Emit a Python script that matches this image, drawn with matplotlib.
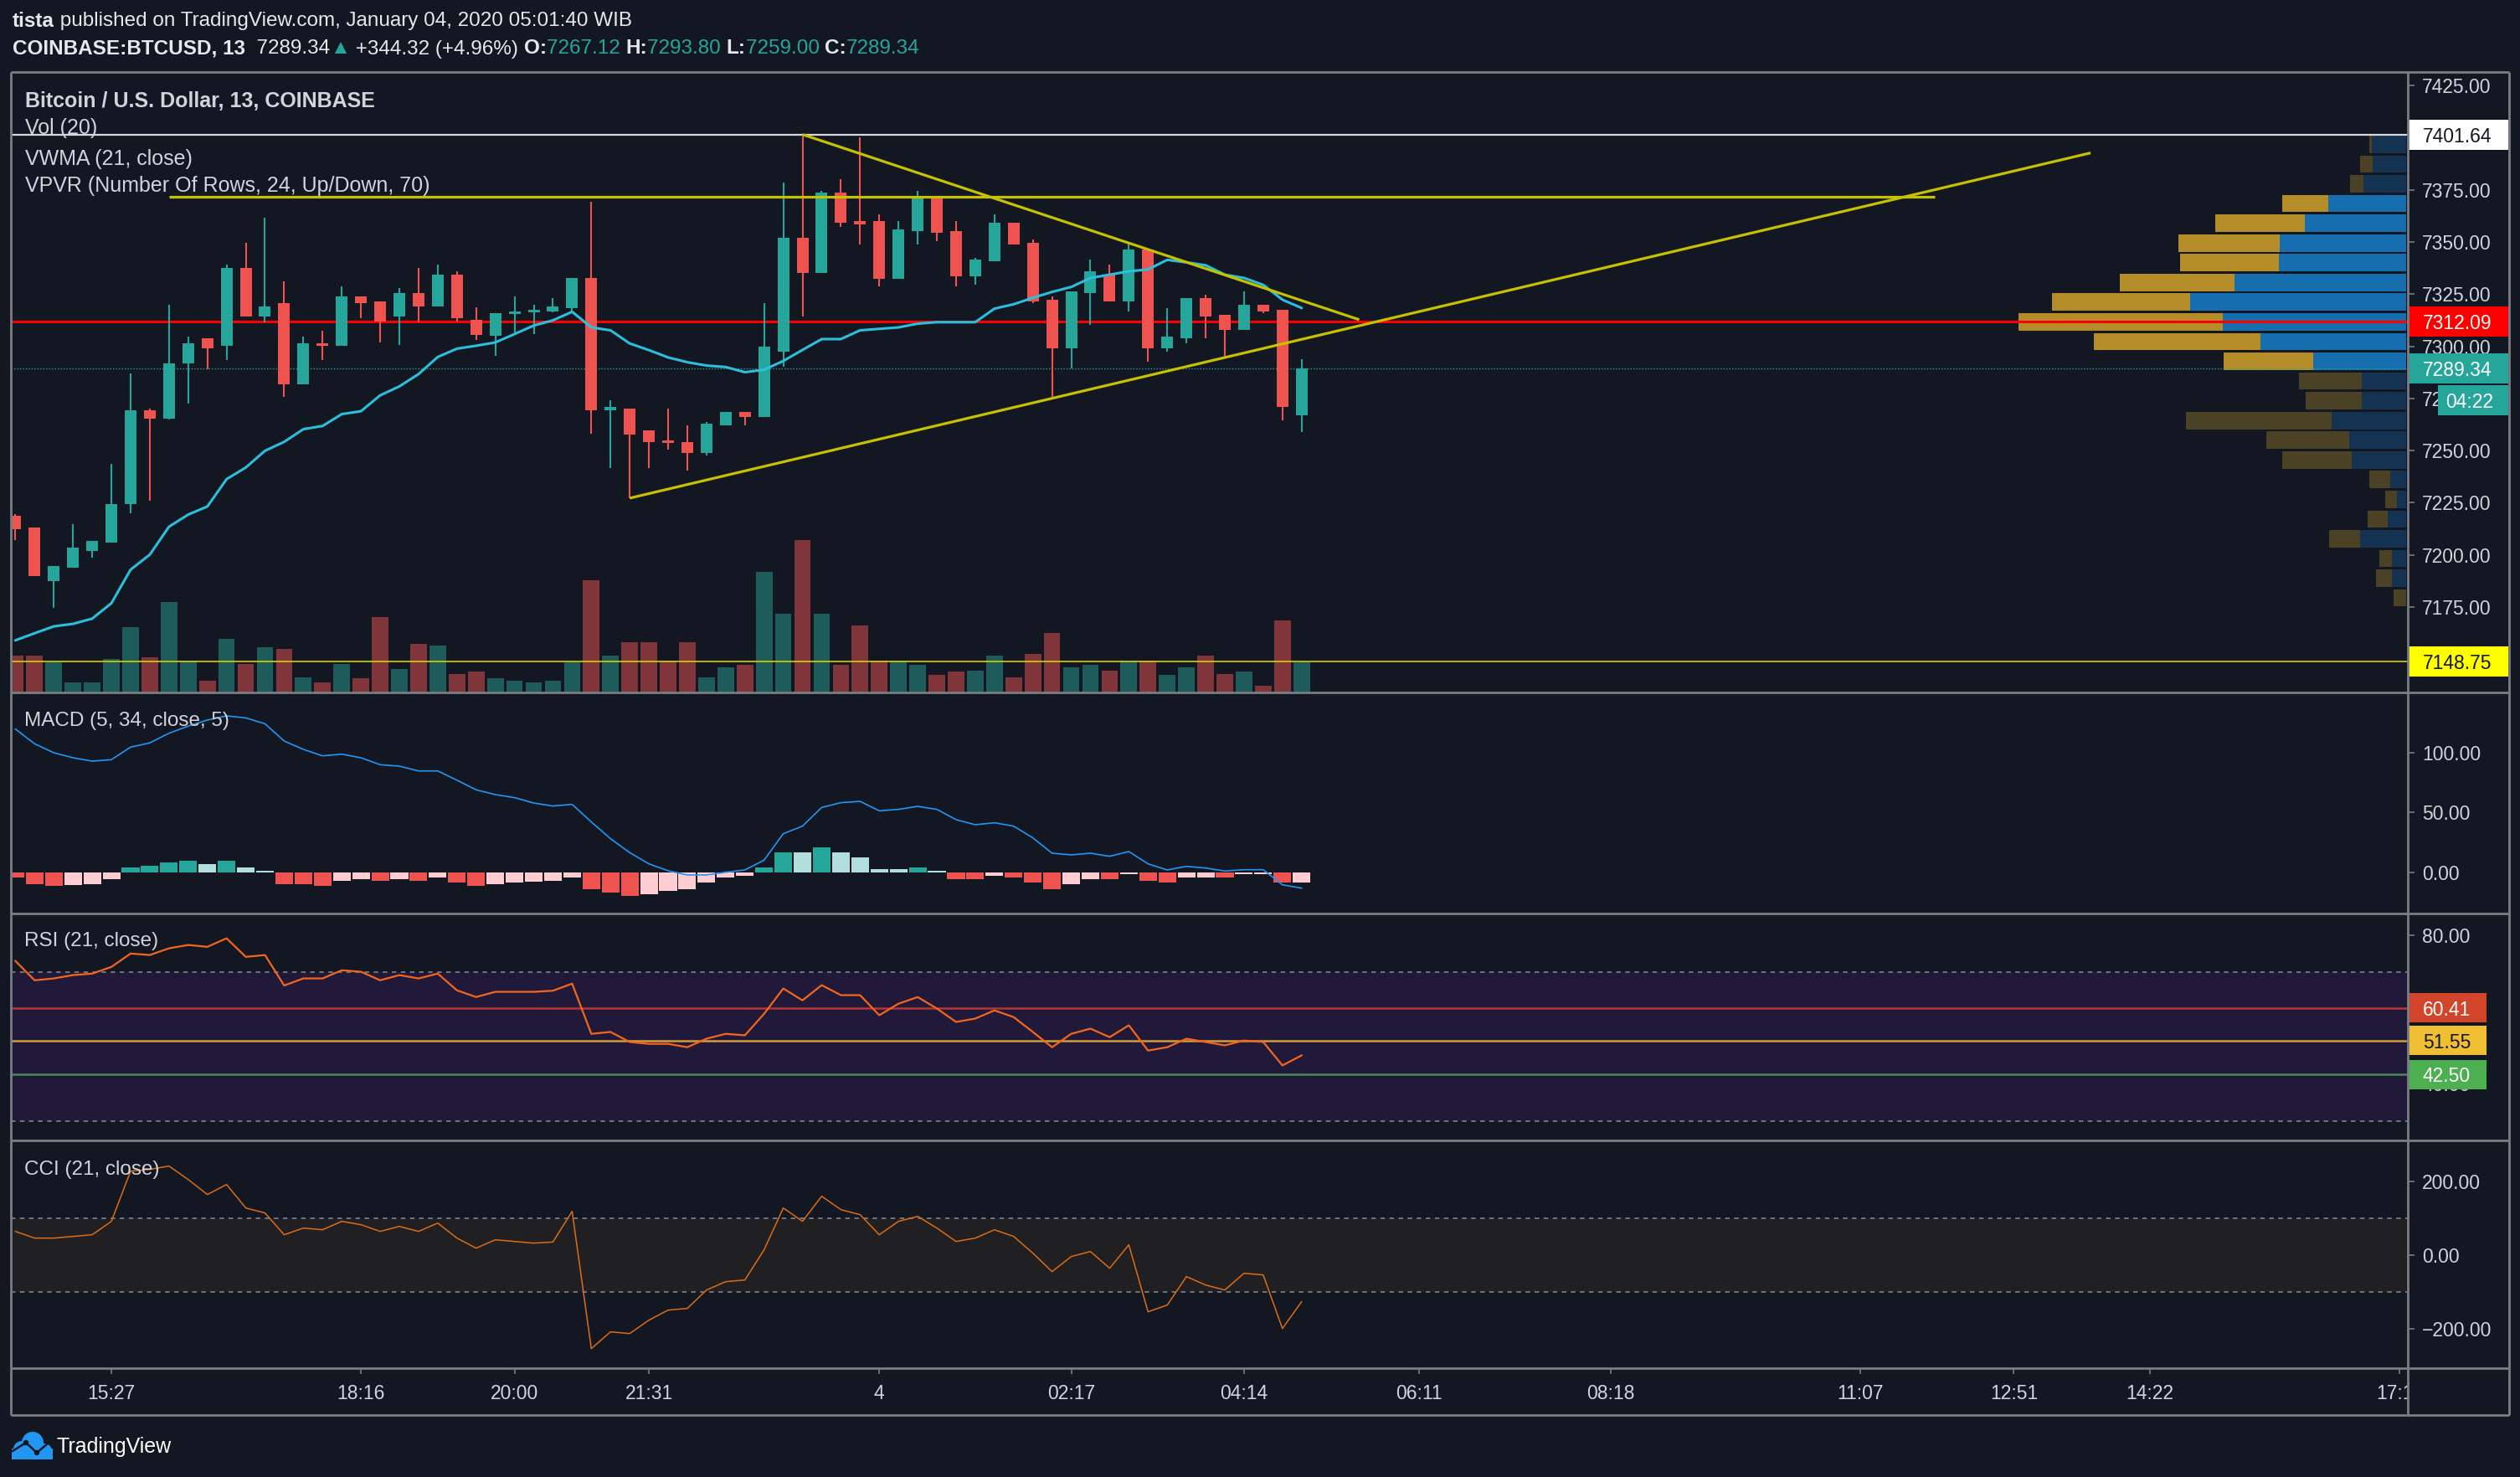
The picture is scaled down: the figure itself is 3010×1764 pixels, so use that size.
import numpy as np
import matplotlib
matplotlib.use("Agg")
import matplotlib.pyplot as plt
import matplotlib.transforms as mtrans
from matplotlib.patches import Rectangle, Circle, Polygon

plt.rcParams['font.family'] = ['Liberation Sans', 'DejaVu Sans']

# ---------------- data ----------------
opens = [7218.6, 7213.2, 7187.5, 7193.8, 7201.9, 7206.0, 7224.5, 7269.3, 7265.5, 7291.9,
         7303.7, 7300.1, 7337.8, 7314.5, 7320.7, 7281.7, 7301.5, 7300.1, 7324.0, 7321.6,
         7314.5, 7325.6, 7319.3, 7334.4, 7312.7, 7305.0, 7315.7, 7316.3, 7316.8, 7318.4,
         7332.8, 7269.3, 7270.2, 7259.8, 7254.9, 7254.1, 7248.7, 7262.1, 7268.6, 7266.2,
         7297.6, 7352.1, 7335.4, 7373.8, 7360.2, 7360.2, 7332.2, 7355.3, 7371.1, 7355.3,
         7333.6, 7340.8, 7359.3, 7349.6, 7322.4, 7299.0, 7325.6, 7334.4, 7321.6, 7346.4,
         7299.0, 7303.9, 7323.3, 7315.2, 7308.0, 7320.0, 7317.5, 7267.12]
highs = [7219.5, 7213.2, 7194.7, 7214.8, 7206.5, 7243.7, 7287.0, 7270.2, 7319.8, 7304.6,
         7304.0, 7339.2, 7349.6, 7361.8, 7331.1, 7304.6, 7307.6, 7328.8, 7324.0, 7321.6,
         7327.9, 7337.8, 7339.2, 7336.0, 7318.9, 7315.9, 7324.0, 7320.0, 7323.3, 7332.8,
         7369.5, 7274.1, 7270.2, 7259.8, 7270.2, 7262.1, 7263.7, 7268.6, 7268.6, 7320.7,
         7378.6, 7401.64, 7374.5, 7380.3, 7400.3, 7363.4, 7360.2, 7374.5, 7371.1, 7360.2,
         7342.4, 7363.4, 7359.3, 7351.2, 7324.0, 7326.3, 7341.7, 7339.2, 7349.6, 7346.4,
         7318.4, 7323.3, 7324.9, 7315.2, 7326.3, 7320.0, 7317.5, 7293.80]
lows = [7206.9, 7189.9, 7174.6, 7193.8, 7198.8, 7206.0, 7219.8, 7226.1, 7265.0, 7272.7,
        7289.0, 7293.5, 7314.5, 7311.4, 7275.9, 7281.7, 7293.5, 7300.1, 7313.6, 7301.7,
        7300.7, 7311.4, 7319.3, 7312.1, 7303.2, 7295.3, 7306.4, 7305.7, 7316.3, 7316.3,
        7258.3, 7241.5, 7227.2, 7241.5, 7250.3, 7240.6, 7247.8, 7262.1, 7262.1, 7266.1,
        7290.3, 7314.5, 7335.4, 7357.1, 7348.9, 7328.8, 7332.2, 7348.9, 7350.5, 7328.8,
        7329.7, 7340.8, 7348.9, 7320.7, 7275.6, 7289.4, 7310.5, 7321.6, 7316.8, 7292.8,
        7297.4, 7301.5, 7303.9, 7295.1, 7308.0, 7316.1, 7264.6, 7259.00]
closes = [7212.3, 7189.9, 7194.7, 7203.3, 7206.5, 7224.5, 7269.3, 7265.5, 7291.9, 7301.5,
          7299.0, 7337.8, 7314.5, 7319.1, 7281.7, 7301.5, 7300.1, 7324.0, 7320.7, 7312.1,
          7325.6, 7319.3, 7334.4, 7313.6, 7305.5, 7315.9, 7316.8, 7317.5, 7319.0, 7332.8,
          7269.3, 7270.9, 7257.5, 7254.1, 7253.5, 7248.7, 7263.0, 7268.6, 7266.2, 7299.9,
          7352.1, 7335.4, 7373.8, 7359.3, 7358.6, 7332.2, 7356.1, 7371.1, 7354.4, 7333.6,
          7341.7, 7359.3, 7348.9, 7321.6, 7299.0, 7326.3, 7336.0, 7321.6, 7346.4, 7299.0,
          7304.8, 7323.3, 7314.5, 7308.0, 7320.0, 7316.8, 7271.1, 7289.34]
volumes = [99, 99, 81, 28, 28, 90, 175, 95, 243, 86,
           32, 144, 77, 122, 117, 41, 28, 77, 37, 202,
           63, 131, 126, 50, 55, 37, 32, 28, 32, 81,
           301, 99, 135, 135, 86, 135, 41, 68, 75, 323,
           211, 408, 211, 75, 180, 86, 86, 75, 46, 55,
           59, 99, 41, 104, 158, 68, 75, 59, 86, 86,
           46, 68, 99, 50, 55, 19, 193, 81]
vwma = [7159.0, 7162.4, 7165.7, 7166.9, 7169.4, 7176.8, 7192.9, 7200.1, 7213.5, 7219.3,
        7223.2, 7236.3, 7241.9, 7249.9, 7254.2, 7260.3, 7261.8, 7267.5, 7268.9, 7276.5,
        7280.8, 7286.7, 7294.9, 7298.9, 7300.3, 7301.9, 7305.9, 7310.0, 7312.5, 7316.6,
        7309.1, 7307.7, 7301.4, 7298.2, 7294.7, 7292.4, 7290.8, 7290.1, 7287.6, 7288.8,
        7293.0, 7298.3, 7303.5, 7303.5, 7307.7, 7308.4, 7309.1, 7310.9, 7311.6, 7311.6,
        7311.6, 7318.1, 7320.2, 7323.3, 7326.1, 7328.5, 7332.8, 7334.4, 7336.0, 7336.9,
        7341.5, 7340.3, 7338.9, 7334.4, 7332.8, 7329.5, 7322.4, 7318.4]
macd_line = [119.8, 107.5, 100.0, 95.8, 93.0, 94.2, 104.7, 108.2, 116.3, 122.2,
             127.3, 130.8, 129.1, 124.2, 109.8, 102.8, 97.4, 98.8, 95.8, 90.0,
             88.8, 84.8, 84.8, 77.1, 69.0, 65.0, 62.5, 58.0, 55.5, 56.9,
             42.2, 28.2, 16.6, 7.2, 1.4, -2.1, -2.1, 0.2, 2.1, 10.3,
             32.4, 38.7, 54.3, 58.3, 59.4, 51.5, 52.7, 55.2, 52.7, 44.1,
             39.9, 41.5, 38.7, 28.9, 16.1, 14.7, 16.1, 13.5, 17.5, 7.2,
             2.1, 5.1, 3.7, 1.2, 2.3, 2.3, -10.3, -13.1]
macd_hist = [-4.0, -9.6, -11.0, -10.8, -9.6, -5.4, 4.2, 5.6, 8.4, 9.8,
             7.0, 9.8, 4.2, 1.4, -9.6, -9.9, -11.0, -6.8, -5.4, -6.8,
             -5.4, -6.8, -4.0, -8.2, -11.0, -9.6, -8.2, -8.0, -6.8, -4.0,
             -13.8, -16.6, -19.3, -17.9, -15.2, -13.8, -8.2, -4.0, -2.6, 4.2,
             16.8, 16.6, 21.0, 16.8, 12.6, 2.8, 2.7, 4.2, 1.4, -5.4,
             -5.6, -2.6, -4.0, -8.2, -13.8, -9.6, -5.4, -5.6, -1.2, -6.8,
             -8.2, -4.0, -4.0, -4.3, -1.2, -1.2, -8.2, -8.2]
rsi = [73.0, 67.8, 68.3, 69.2, 69.6, 71.4, 75.0, 74.6, 76.4, 77.3,
       76.8, 79.1, 74.1, 74.6, 66.4, 68.3, 68.3, 70.5, 70.1, 67.8,
       69.2, 68.3, 69.6, 65.1, 63.3, 64.7, 64.7, 64.7, 65.0, 66.9,
       53.4, 53.9, 51.2, 50.7, 50.7, 49.8, 52.1, 53.4, 53.0, 58.8,
       65.6, 62.4, 66.5, 63.8, 63.8, 58.4, 61.5, 63.3, 60.2, 56.6,
       57.5, 59.7, 57.9, 53.9, 49.8, 53.4, 54.8, 52.5, 55.7, 48.9,
       49.8, 52.1, 51.2, 50.3, 51.6, 51.2, 44.9, 47.6]
cci = [64.4, 46.2, 46.2, 50.8, 55.3, 91.7, 228.0, 232.6, 241.7, 205.3,
       164.4, 191.7, 128.0, 114.4, 55.3, 73.5, 68.9, 91.7, 82.6, 64.4,
       78.0, 64.4, 87.1, 46.2, 18.9, 41.7, 37.1, 32.6, 35.6, 118.9,
       -253.8, -208.3, -212.9, -176.5, -149.2, -144.7, -94.7, -72.0, -67.4, 14.4,
       128.0, 91.7, 159.8, 123.5, 109.8, 55.3, 91.7, 105.3, 73.5, 37.1,
       46.2, 68.9, 50.8, 5.3, -44.7, -3.8, 9.8, -35.6, 28.0, -153.8,
       -135.6, -58.3, -81.1, -94.7, -49.2, -53.8, -199.2, -126.5]

# volume profile (24 rows, listed top -> bottom)
vp_low, vp_high = 7174.6, 7401.64
vp_up = [20.4, 20.0, 25.3, 46.7, 60.6, 75.4, 76.0, 102.3, 129.0, 109.5, 86.9, 55.4,
         26.3, 26.5, 44.6, 34.1, 32.6, 9.3, 5.5, 11.0, 27.4, 8.7, 8.7, 0.0]
vp_down = [1.7, 7.4, 8.4, 27.4, 53.3, 60.8, 58.9, 68.8, 82.5, 121.9, 99.4, 53.7,
           37.7, 33.5, 86.7, 49.3, 41.5, 12.7, 6.8, 11.8, 18.5, 7.4, 9.3, 7.4]
vp_value_area = [0, 0, 0, 1, 1, 1, 1, 1, 1, 1, 1, 1, 0, 0, 0, 0, 0, 0, 0, 0, 0, 0, 0, 0]

# drawings
level_high = 7401.64
level_red = 7312.09
level_yellow = 7148.75
last_price = 7289.34
resistance_bars, resistance_prices = [8, 100], [7371.8, 7371.8]
down_trend_bars, down_trend_prices = [41, 70], [7401.64, 7312.8]
up_trend_bars, up_trend_prices = [32, 108.1], [7227.2, 7392.8]
rsi_levels = [60.41, 51.55, 42.50]

price_ticks = [7175, 7200, 7225, 7250, 7275, 7300, 7325, 7350, 7375, 7400, 7425]
macd_ticks = [0, 50, 100]
rsi_ticks = [40, 60, 80]
cci_ticks = [-200, 0, 200]
time_tick_pos = [5, 18, 26, 33, 45, 55, 64, 73.1, 83.1, 96.1, 104.1, 111.2, 124.2]
time_tick_labels = ['15:27', '18:16', '20:00', '21:31', '4', '02:17', '04:14', '06:11',
                    '08:18', '11:07', '12:51', '14:22', '17:11']

# ---------------- style / layout ----------------
W, H, DPI = 3010, 1764, 100
BG = '#131722'
TXT = '#d1d4dc'
FRAME = '#7b7d84'
UP, DOWN = '#26a69a', '#ef5350'
VOL_UP, VOL_DOWN = '#1e5c5b', '#7f353a'
YEL = '#c6c200'
X0, X1, XRB = 13, 2876, 2997
Y_TOP, Y_MAIN, Y_MACD, Y_RSI, Y_CCI, Y_TIME = 86, 827, 1091, 1362, 1634, 1690
BAR0, BARW = 18.4, 22.93
XL = (X0 - BAR0) / BARW
XR = (X1 - BAR0) / BARW
FS_AX = 16.5

fig = plt.figure(figsize=(W / DPI, H / DPI), dpi=DPI)
fig.patch.set_facecolor(BG)
PIX = mtrans.Affine2D().scale(1.0 / W, -1.0 / H).translate(0, 1.0) + fig.transFigure


def add_ax(y0, y1, z, label, face=BG):
    a = fig.add_axes([X0 / W, 1 - y1 / H, (X1 - X0) / W, (y1 - y0) / H], label=label)
    a.set_zorder(z)
    a.set_facecolor(face)
    for s in a.spines.values():
        s.set_visible(False)
    a.set_xlim(XL, XR)
    a.set_xticks([])
    return a


def right_ticks(a, ticks, labels):
    a.yaxis.tick_right()
    a.set_yticks(ticks)
    a.set_yticklabels(labels)
    a.tick_params(axis='y', direction='out', length=5.8, width=1.2, color=FRAME,
                  labelcolor=TXT, labelsize=FS_AX, pad=6.5)


def axis_box(a, y0px, y1px, value, text, bg, fg, xl=2877, xr=2996, hpx=36, tx=2894):
    ylo, yhi = a.get_ylim()
    dh = hpx / (y1px - y0px) * (yhi - ylo)
    tr = mtrans.blended_transform_factory(a.transAxes, a.transData)
    a.add_patch(Rectangle(((xl - X0) / (X1 - X0), value - dh / 2), (xr - xl) / (X1 - X0), dh,
                          transform=tr, facecolor=bg, edgecolor='none', clip_on=False, zorder=20))
    a.text((tx - X0) / (X1 - X0), value, text, transform=tr, color=fg, fontsize=FS_AX,
           va='center_baseline', ha='left', clip_on=False, zorder=21)


idx = np.arange(len(opens))
o, h, l, c = map(np.array, (opens, highs, lows, closes))
is_up = c >= o

# ---- volume axes (behind) ----
ax_vol = add_ax(Y_TOP, Y_MAIN, 1, 'vol')
ax_vol.set_ylim(0, (Y_MAIN - Y_TOP) * 2.24)
ax_vol.set_yticks([])
ax_vol.bar(idx, volumes, width=0.86, color=np.where(is_up, VOL_UP, VOL_DOWN), linewidth=0)

PMIN, PMAX = 7134.0, 7431.6

# ---- volume profile axes ----
ax_vp = add_ax(Y_TOP, Y_MAIN, 2, 'vp', face='none')
ax_vp.set_ylim(PMIN, PMAX)
ax_vp.set_yticks([])
VP_PX_PER_UNIT = 2.0
ax_vp.set_xlim((X1 - X0) / VP_PX_PER_UNIT - 1.0, -1.0)
nrows = len(vp_up)
step = (vp_high - vp_low) / nrows
centers = vp_high - step * (np.arange(nrows) + 0.5)
va = np.array(vp_value_area, dtype=bool)
ax_vp.barh(centers, vp_up, height=step * 0.88, left=0,
           color=np.where(va, '#176eaf', '#143252'), linewidth=0)
ax_vp.barh(centers, vp_down, height=step * 0.88, left=vp_up,
           color=np.where(va, '#b48c28', '#4b4125'), linewidth=0)

# ---- main price axes ----
ax = add_ax(Y_TOP, Y_MAIN, 3, 'main', face='none')
ax.set_ylim(PMIN, PMAX)
right_ticks(ax, price_ticks, ['%.2f' % t for t in price_ticks])

ax.axhline(level_high, color='#d6d8de', lw=1.6, zorder=3)
ax.axhline(level_red, color='#ff0000', lw=2.2, zorder=3)
ax.axhline(level_yellow, color='#d4d000', lw=1.2, zorder=3)
ax.axhline(last_price, color=UP, lw=1.0, ls=(0, (1, 1.5)), zorder=3)

ax.vlines(idx, l, h, colors=np.where(is_up, UP, DOWN), linewidth=1.5, zorder=4)
body_lo = np.minimum(o, c)
body_h = np.maximum(np.abs(c - o), 0.8)
ax.bar(idx, body_h, bottom=body_lo, width=0.61, color=np.where(is_up, UP, DOWN),
       linewidth=0, zorder=5)
ax.plot(idx, vwma, color='#2bbfdc', lw=2.2, zorder=6, solid_capstyle='round')
for bx, py in ((resistance_bars, resistance_prices), (down_trend_bars, down_trend_prices),
               (up_trend_bars, up_trend_prices)):
    ax.plot(bx, py, color=YEL, lw=2.3, zorder=7, solid_capstyle='butt')

legend = [("Bitcoin / U.S. Dollar, 13, COINBASE", 'bold', 121),
          ("Vol (20)", 'normal', 153), ("VWMA (21, close)", 'normal', 190),
          ("VPVR (Number Of Rows, 24, Up/Down, 70)", 'normal', 222)]
for s, wt, yy in legend:
    ax.text(30, yy, s, transform=PIX, color=TXT, fontsize=18, fontweight=wt,
            va='center', ha='left', zorder=1, clip_on=False)

axis_box(ax, Y_TOP, Y_MAIN, level_high, '%.2f' % level_high, '#ffffff', '#131722')
axis_box(ax, Y_TOP, Y_MAIN, level_red, '%.2f' % level_red, '#ff0000', '#ffffff')
axis_box(ax, Y_TOP, Y_MAIN, last_price, '%.2f' % last_price, UP, '#ffffff')
axis_box(ax, Y_TOP, Y_MAIN, level_yellow, '%.2f' % level_yellow, '#ffff00', '#131722')
axis_box(ax, Y_TOP, Y_MAIN, 7274.1, '04:22', UP, '#ffffff', xl=2912, tx=2921)

# ---- MACD ----
ax_m = add_ax(Y_MAIN, Y_MACD, 3, 'macd')
ax_m.set_ylim(-34.27, 150.35)
right_ticks(ax_m, macd_ticks, ['%.2f' % t for t in macd_ticks])
hist = np.array(macd_hist)
prev = np.concatenate([[0.0], hist[:-1]])
hcol = np.where(hist >= 0, np.where(hist > prev, '#26a69a', '#b2dfdb'),
                np.where(hist < prev, '#ef5350', '#ffcdd2'))
ax_m.bar(idx, hist, width=0.92, color=hcol, linewidth=0, zorder=2)
ax_m.plot(idx, macd_line, color='#2196f3', lw=1.2, zorder=3)

# ---- RSI ----
ax_r = add_ax(Y_MACD, Y_RSI, 3, 'rsi')
ax_r.set_ylim(24.73, 85.77)
right_ticks(ax_r, rsi_ticks, ['%.2f' % t for t in rsi_ticks])
ax_r.axhspan(30, 70, color='#21193a', lw=0, zorder=1)
for lv in (70, 30):
    ax_r.axhline(lv, color='#787b86', lw=1.3, ls=(0, (3, 3)), zorder=2)
for lv, colr in zip(rsi_levels, ['#b23636', '#d29b3c', '#4b8a58']):
    ax_r.axhline(lv, color=colr, lw=1.8, zorder=2)
ax_r.plot(idx, rsi, color='#f5661a', lw=1.6, zorder=3)
for lv, bg, fg in zip(rsi_levels, ['#d2452b', '#f0be32', '#4caf50'], ['#ffffff', '#131722', '#ffffff']):
    axis_box(ax_r, Y_MACD, Y_RSI, lv, '%.2f' % lv, bg, fg, xr=2970, hpx=35)

# ---- CCI ----
ax_c = add_ax(Y_RSI, Y_CCI, 3, 'cci')
ax_c.set_ylim(-306.8, 311.4)
right_ticks(ax_c, cci_ticks, [('%.2f' % t).replace('-', '\u2212') for t in cci_ticks])
ax_c.axhspan(-100, 100, color='#201f21', lw=0, zorder=1)
for lv in (100, -100):
    ax_c.axhline(lv, color='#787b86', lw=1.3, ls=(0, (3, 3)), zorder=2)
ax_c.plot(idx, cci, color='#dc6c16', lw=1.1, zorder=3)

# ---- time axis ----
ax_t = add_ax(Y_CCI, Y_TIME, 3, 'time')
ax_t.set_ylim(0, 1)
ax_t.set_yticks([])
ax_t.vlines(time_tick_pos, 0.87, 1.0, color=FRAME, lw=1.2)
for xp, lab in zip(time_tick_pos, time_tick_labels):
    ax_t.text(xp, 0.45, lab, color=TXT, fontsize=FS_AX, ha='center', va='center', clip_on=True)

# ---- decoration overlay ----
deco = fig.add_axes([0, 0, 1, 1], label='deco')
deco.set_zorder(10)
deco.set_xlim(0, W)
deco.set_ylim(H, 0)
deco.axis('off')
deco.patch.set_alpha(0)
for yy in (Y_TOP, Y_MAIN, Y_MACD, Y_RSI, Y_CCI, Y_TIME):
    deco.plot([X0, XRB], [yy, yy], color=FRAME, lw=2.0, solid_capstyle='butt')
for xx in (X0, X1, XRB):
    deco.plot([xx, xx], [Y_TOP, Y_TIME], color=FRAME, lw=2.0, solid_capstyle='butt')

for s, yy in (("MACD (5, 34, close, 5)", 861), ("RSI (21, close)", 1124), ("CCI (21, close)", 1397)):
    deco.text(29, yy, s, color=TXT, fontsize=17.5, va='center', ha='left')


def chain(x, y, parts, fs):
    t = deco.text(x, y, parts[0][0], fontsize=fs, fontweight=parts[0][1], color=parts[0][2],
                  va='center', ha='left')
    prev_t = t
    for s, wt, colr in parts[1:]:
        prev_t = deco.annotate(s, xy=(1, 0), xycoords=prev_t, va='bottom', ha='left',
                               fontsize=fs, fontweight=wt, color=colr)


WH = '#e6e8ee'
chain(15, 25, [("tista", 'bold', WH),
               (" published on TradingView.com, January 04, 2020 05:01:40 WIB", 'normal', WH)], 17.5)
chain(15, 58, [("COINBASE:BTCUSD, 13", 'bold', WH), ("  7289.34", 'normal', WH),
               ("\u25b2", 'normal', UP), (" +344.32 (+4.96%) ", 'normal', WH),
               ("O:", 'bold', WH), ("7267.12 ", 'normal', UP), ("H:", 'bold', WH),
               ("7293.80 ", 'normal', UP), ("L:", 'bold', WH), ("7259.00 ", 'normal', UP),
               ("C:", 'bold', WH), ("7289.34", 'normal', UP)], 17.5)

# TradingView logo
LOGO = '#2196f3'
for (cx, cy, r) in ((26, 1731, 10), (39, 1723, 13), (53, 1733, 9)):
    deco.add_patch(Circle((cx, cy), r, facecolor=LOGO, edgecolor='none'))
deco.add_patch(Rectangle((14, 1730), 49, 13, facecolor=LOGO, edgecolor='none'))
deco.plot([15, 31, 44, 57], [1733, 1723, 1735, 1724], color=BG, lw=1.8)
for px, py in ((31, 1723), (44, 1735)):
    deco.add_patch(Circle((px, py), 3.2, facecolor=BG, edgecolor='none'))
deco.text(68, 1728, "TradingView", color='#ffffff', fontsize=18, va='center', ha='left')

fig.savefig('out.png', dpi=DPI, facecolor=BG)
